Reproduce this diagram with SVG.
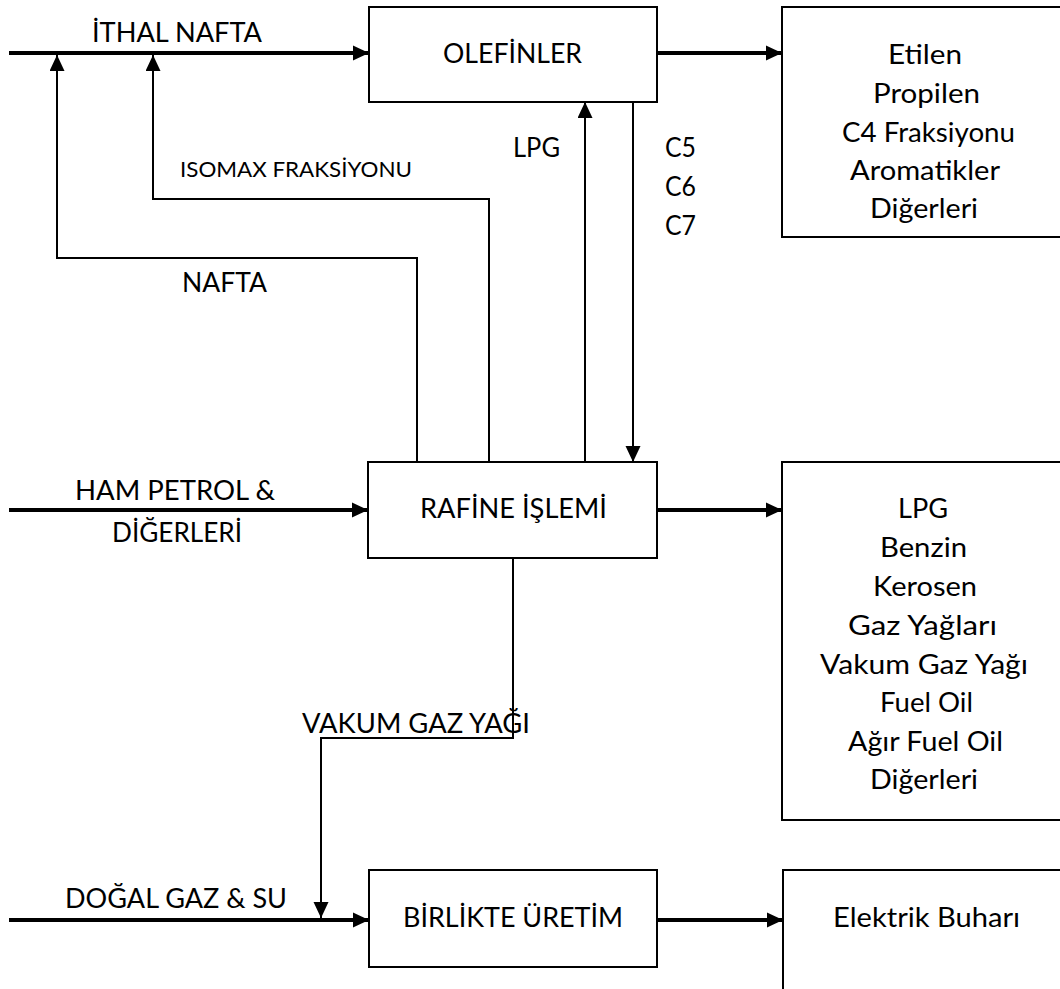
<svg xmlns="http://www.w3.org/2000/svg" width="1060" height="989" viewBox="0 0 1060 989">
<style>
.box{fill:#fff;stroke:#000;stroke-width:2}
.thick{fill:none;stroke:#000;stroke-width:4}
.thin{fill:none;stroke:#000;stroke-width:2}
text{font-family:Lato,"Open Sans","Liberation Sans",sans-serif;font-size:26px;fill:#000;text-anchor:middle}
.small{font-size:21px}
.left{text-anchor:start}
</style>
<defs>
<marker id="ah" markerUnits="userSpaceOnUse" markerWidth="16" markerHeight="16" refX="16" refY="8" orient="auto"><path d="M0,0.5 L16,8 L0,15.5 Z" fill="#000"/></marker>
<marker id="ahs" markerUnits="userSpaceOnUse" markerWidth="16" markerHeight="16" refX="16" refY="7.5" orient="auto"><path d="M0,0 L16,7.5 L0,15 Z" fill="#000"/></marker>
</defs>
<g id="connectors">
<line class="thick" x1="9" y1="53" x2="369" y2="53" marker-end="url(#ah)"/>
<line class="thick" x1="657" y1="53" x2="782" y2="53" marker-end="url(#ah)"/>
<path class="thin" d="M417,462 V258 H57 V55" marker-end="url(#ahs)"/>
<path class="thin" d="M489,462 V199 H153 V55" marker-end="url(#ahs)"/>
<path class="thin" d="M585,462 V102" marker-end="url(#ahs)"/>
<path class="thin" d="M633,100 V462" marker-end="url(#ahs)"/>
<line class="thick" x1="9" y1="510" x2="368" y2="510" marker-end="url(#ah)"/>
<line class="thick" x1="657" y1="510" x2="782" y2="510" marker-end="url(#ah)"/>
<path class="thin" d="M513,558 V738 H321 V918" marker-end="url(#ahs)"/>
<line class="thick" x1="9" y1="920" x2="369" y2="920" marker-end="url(#ah)"/>
<line class="thick" x1="657" y1="920" x2="783" y2="920" marker-end="url(#ah)"/>
<text x="177" y="42" textLength="170" lengthAdjust="spacingAndGlyphs">İTHAL NAFTA</text>
<text class="small" x="296" y="177" textLength="232" lengthAdjust="spacingAndGlyphs">ISOMAX FRAKSİYONU</text>
<text x="224.5" y="292" textLength="85" lengthAdjust="spacingAndGlyphs">NAFTA</text>
<text class="left" x="513" y="157" textLength="47" lengthAdjust="spacingAndGlyphs">LPG</text>
<text class="left" x="665" y="157" textLength="31" lengthAdjust="spacingAndGlyphs">C5</text>
<text class="left" x="665" y="196" textLength="31" lengthAdjust="spacingAndGlyphs">C6</text>
<text class="left" x="665" y="235" textLength="31" lengthAdjust="spacingAndGlyphs">C7</text>
<text x="175" y="500" textLength="200" lengthAdjust="spacingAndGlyphs">HAM PETROL &amp;</text>
<text x="177" y="542" textLength="130" lengthAdjust="spacingAndGlyphs">DİĞERLERİ</text>
<text x="416" y="733" textLength="228" lengthAdjust="spacingAndGlyphs">VAKUM GAZ YAĞI</text>
<text x="176" y="908" textLength="222" lengthAdjust="spacingAndGlyphs">DOĞAL GAZ &amp; SU</text>
</g>
<g id="olefinler">
<rect class="box" x="369" y="7" width="288" height="95"/>
<text x="512.5" y="63" textLength="139" lengthAdjust="spacingAndGlyphs">OLEFİNLER</text>
</g>
<g id="olefin-products">
<rect class="box" x="782" y="7" width="290" height="230"/>
<text x="925" y="64" textLength="74" lengthAdjust="spacingAndGlyphs">Etilen</text>
<text x="926.5" y="103" textLength="107" lengthAdjust="spacingAndGlyphs">Propilen</text>
<text x="928.5" y="142" textLength="173" lengthAdjust="spacingAndGlyphs">C4 Fraksiyonu</text>
<text x="925" y="180" textLength="150" lengthAdjust="spacingAndGlyphs">Aromatikler</text>
<text x="924" y="218" textLength="108" lengthAdjust="spacingAndGlyphs">Diğerleri</text>
</g>
<g id="rafine">
<rect class="box" x="368" y="462" width="289" height="96"/>
<text x="513.5" y="518" textLength="187" lengthAdjust="spacingAndGlyphs">RAFİNE İŞLEMİ</text>
</g>
<g id="rafine-products">
<rect class="box" x="782" y="462" width="290" height="358"/>
<text x="923" y="518" textLength="50" lengthAdjust="spacingAndGlyphs">LPG</text>
<text x="923.5" y="557" textLength="87" lengthAdjust="spacingAndGlyphs">Benzin</text>
<text x="925" y="596" textLength="104" lengthAdjust="spacingAndGlyphs">Kerosen</text>
<text x="922.5" y="635" textLength="149" lengthAdjust="spacingAndGlyphs">Gaz Yağları</text>
<text x="924" y="674" textLength="208" lengthAdjust="spacingAndGlyphs">Vakum Gaz Yağı</text>
<text x="926.5" y="712" textLength="93" lengthAdjust="spacingAndGlyphs">Fuel Oil</text>
<text x="925.5" y="751" textLength="155" lengthAdjust="spacingAndGlyphs">Ağır Fuel Oil</text>
<text x="924" y="789" textLength="108" lengthAdjust="spacingAndGlyphs">Diğerleri</text>
</g>
<g id="birlikte">
<rect class="box" x="369" y="870" width="288" height="97"/>
<text x="513" y="927" textLength="220" lengthAdjust="spacingAndGlyphs">BİRLİKTE ÜRETİM</text>
</g>
<g id="elektrik">
<rect class="box" x="783" y="870" width="290" height="140"/>
<text x="926.5" y="927" textLength="187" lengthAdjust="spacingAndGlyphs">Elektrik Buharı</text>
</g>
</svg>
